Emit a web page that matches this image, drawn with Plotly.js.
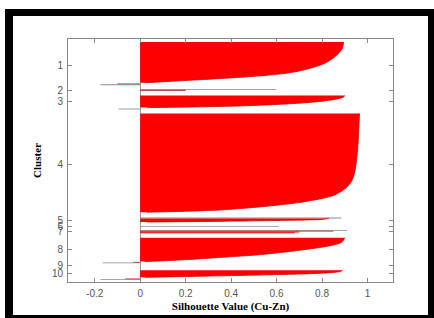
<!DOCTYPE html>
<html>
<head>
<meta charset="utf-8">
<script src="https://cdn.plot.ly/plotly-3.0.1.min.js"></script>
<style>
  html, body { margin:0; padding:0; background:#fff; }
  #frame { position:absolute; left:5px; top:9px; width:429px; height:309px; box-sizing:border-box;
           border-style:solid; border-color:#000; border-width:7px 6px 3px 8px; background:#fff; }
  #chart { position:absolute; left:0; top:0; width:434px; height:318px; }
</style>
</head>
<body>
<div id="frame"></div>
<div id="chart"></div>
<script>
// ---- data (row = observation rank position on the stacked silhouette axis) ----
const clusterLabels = ['1','2','3','4','5','6','7','8','9','10'];
const clusterTickRows = [26, 51, 62.7, 125, 181, 187, 192, 210.3, 226, 234.3];

// clusters drawn as filled outlines of their sorted silhouette values
const c1Rows = [3, 6, 10, 15, 19, 24, 28.5, 31.5, 34, 36, 38, 40, 42, 43.8];
const c1Sil  = [0.895, 0.893, 0.888, 0.87, 0.85, 0.815, 0.76, 0.71, 0.65, 0.57, 0.46, 0.32, 0.16, 0.02];
const c3Rows = [56.5, 58, 59.5, 61, 62.5, 64, 65.5, 67, 68, 68.6];
const c3Sil  = [0.90, 0.895, 0.875, 0.84, 0.79, 0.71, 0.60, 0.43, 0.22, 0.03];
const c4Rows = [74.5, 90, 110, 125, 135, 143, 149, 153, 156.5, 160, 163.5, 166.5, 169, 171, 172.3, 173.2];
const c4Sil  = [0.965, 0.962, 0.957, 0.95, 0.942, 0.928, 0.905, 0.88, 0.85, 0.79, 0.70, 0.59, 0.47, 0.35, 0.20, 0.03];
const c5Rows = [179.5, 180.4, 181.3, 182.2, 183.0];
const c5Sil  = [0.83, 0.80, 0.65, 0.38, 0.03];
const c8Rows = [198.8, 201, 203.5, 206, 208.5, 211, 213.5, 216, 218, 220, 221.5, 222.6];
const c8Sil  = [0.90, 0.895, 0.885, 0.85, 0.79, 0.71, 0.62, 0.51, 0.38, 0.25, 0.13, 0.02];
const c10Rows = [231.3, 232.5, 233.5, 234.5, 235.5, 236.5, 237.5, 238.3];
const c10Sil  = [0.89, 0.88, 0.85, 0.77, 0.62, 0.42, 0.20, 0.02];

// single observations (thin bars)
const thinRows = [45.0, 45.7, 50.6, 51.3, 70.0, 179.0, 187.7, 191.3, 192.1, 192.9, 193.7, 223.3, 223.9, 240.0, 240.6];
const thinSil  = [-0.10, -0.175, 0.60, 0.20, -0.095, 0.885, 0.61, 0.91, 0.85, 0.70, 0.68, -0.03, -0.165, -0.065, -0.175];
const thinKind = ['d','g','g','d','g','g','g','g','d','r','r','d','g','d','g'];

const xTickVals = [-0.2, 0, 0.2, 0.4, 0.6, 0.8, 1];
const xTickText = ['-0.2', '0', '0.2', '0.4', '0.6', '0.8', '1'];

// ---- traces ----
const RED = '#ff0000';
const kindColor = {g:'#8a8a8a', d:'#a81414', r:'#f40000'};
const kindWidth = {g:0.85, d:0.9, r:1.05};
function area(rows, sil) {
  return {type:'scatter', mode:'lines', x:sil, y:rows, fill:'tozerox',
          fillcolor:RED, line:{color:'#d40000', width:0.8, shape:'spline', smoothing:0.8},
          hoverinfo:'skip'};
}
const traces = [
  area(c1Rows, c1Sil), area(c3Rows, c3Sil), area(c4Rows, c4Sil), area(c5Rows, c5Sil),
  area(c8Rows, c8Sil), area(c10Rows, c10Sil),
  {type:'bar', orientation:'h', x:thinSil, y:thinRows, width:thinKind.map(k => kindWidth[k]), base:0,
   marker:{color:thinKind.map(k => kindColor[k]), line:{width:0}}, hoverinfo:'skip'}
];

const tickFont = {family:'Liberation Sans, Arial, sans-serif', size:10, color:'#555'};
const titleFont = {family:'Liberation Serif, Times New Roman, serif', size:11, color:'#000'};

const layout = {
  width:434, height:318,
  margin:{l:68, r:41, t:39, b:36, pad:0},
  paper_bgcolor:'rgba(0,0,0,0)', plot_bgcolor:'#fff',
  showlegend:false, barmode:'overlay',
  xaxis:{range:[-0.3175, 1.1124], tickmode:'array', tickvals:xTickVals, ticktext:xTickText,
         ticks:'inside', ticklen:4, tickcolor:'#888', showline:true, linecolor:'#888', linewidth:1,
         mirror:'ticks', showgrid:false, zeroline:true, zerolinecolor:'#999', zerolinewidth:1,
         tickfont:tickFont, ticklabelstandoff:2,
         title:{text:'<b>Silhouette Value (Cu-Zn)</b>', font:titleFont, standoff:4}},
  yaxis:{range:[243, 0], tickmode:'array', tickvals:clusterTickRows, ticktext:clusterLabels,
         ticks:'inside', ticklen:4, tickcolor:'#888', showline:true, linecolor:'#888', linewidth:1,
         mirror:'ticks', showgrid:false, zeroline:false, tickfont:tickFont, ticklabelstandoff:2,
         title:{text:'<b>Cluster</b>', font:titleFont, standoff:8}}
};

Plotly.newPlot('chart', traces, layout, {staticPlot:true, displayModeBar:false});
</script>
</body>
</html>
